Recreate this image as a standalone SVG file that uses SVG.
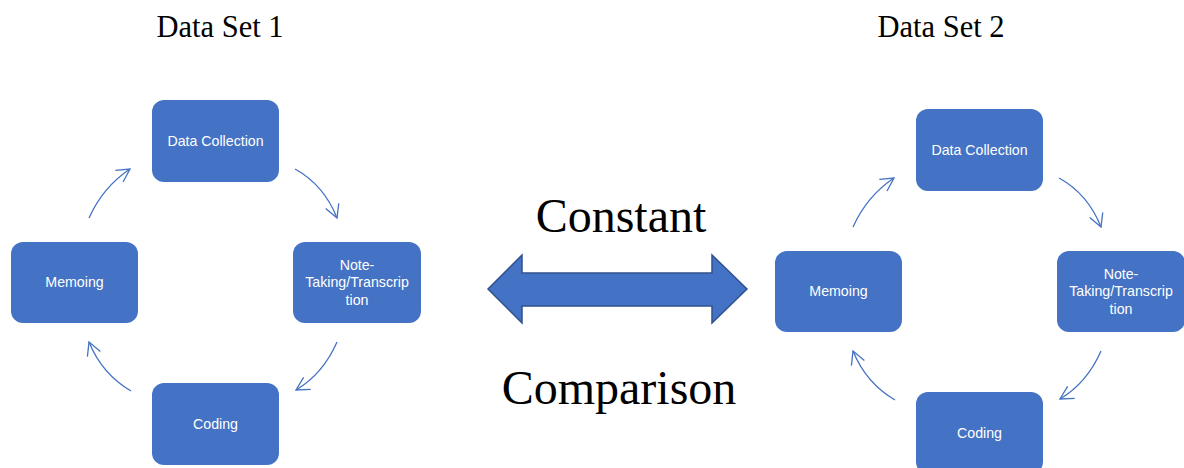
<svg xmlns="http://www.w3.org/2000/svg" width="1184" height="468" viewBox="0 0 1184 468">
<style>
.box{fill:#4472C4;}
.lbl{fill:#FFFFFF;font-family:"Liberation Sans",Arial,sans-serif;font-size:14.2px;text-anchor:middle;}
.title{fill:#000;font-family:"Liberation Serif","Times New Roman",serif;text-anchor:middle;}
.conn{fill:none;stroke:#4472C4;stroke-width:1.3;marker-end:url(#open);}
</style>
<defs>
<marker id="open" markerUnits="userSpaceOnUse" markerWidth="20" markerHeight="20" refX="14" refY="8" orient="auto">
<path d="M1,1 L14,8 L1,15" fill="none" stroke="#4472C4" stroke-width="1.3"/>
</marker>
</defs>
<rect width="1184" height="468" fill="#FFFFFF"/>
<text class="title" x="220" y="37" font-size="30.5">Data Set 1</text>
<text class="title" x="941" y="37" font-size="30.5">Data Set 2</text>
<text class="title" x="621" y="232" font-size="48">Constant</text>
<text class="title" x="619" y="404" font-size="48">Comparison</text>
<g id="double-arrow">
<polygon points="488,289 522,255 522,273 712,273 712,255 747,289 712,323 712,306 522,306 522,323" fill="#4472C4" stroke="#2F528F" stroke-width="1.5"/>
</g>
<g id="set1">
<g id="s1-data-collection"><rect class="box" x="152" y="100" width="127" height="82" rx="12"/><text class="lbl" x="215.5" y="146">Data Collection</text></g>
<g id="s1-note-taking"><rect class="box" x="293" y="242" width="128" height="81" rx="12"/><text class="lbl" x="357" y="270">Note-</text><text class="lbl" x="357" y="287">Taking/Transcrip</text><text class="lbl" x="357" y="305">tion</text></g>
<g id="s1-coding"><rect class="box" x="152" y="383" width="127" height="82" rx="12"/><text class="lbl" x="215.5" y="429">Coding</text></g>
<g id="s1-memoing"><rect class="box" x="11" y="242" width="127" height="81" rx="12"/><text class="lbl" x="74.5" y="287">Memoing</text></g>
<g id="s1-connectors">
<path class="conn" d="M89,218 Q103,187 130,169"/>
<path class="conn" d="M295,169 Q324,185 337,218"/>
<path class="conn" d="M337,342 Q323,374 296,390"/>
<path class="conn" d="M131,391 Q102,374 89,342"/>
</g>
</g>
<g id="set2" transform="translate(764,9)">
<g id="s2-data-collection"><rect class="box" x="152" y="100" width="127" height="82" rx="12"/><text class="lbl" x="215.5" y="146">Data Collection</text></g>
<g id="s2-note-taking"><rect class="box" x="293" y="242" width="128" height="81" rx="12"/><text class="lbl" x="357" y="270">Note-</text><text class="lbl" x="357" y="287">Taking/Transcrip</text><text class="lbl" x="357" y="305">tion</text></g>
<g id="s2-coding"><rect class="box" x="152" y="383" width="127" height="82" rx="12"/><text class="lbl" x="215.5" y="429">Coding</text></g>
<g id="s2-memoing"><rect class="box" x="11" y="242" width="127" height="81" rx="12"/><text class="lbl" x="74.5" y="287">Memoing</text></g>
<g id="s2-connectors">
<path class="conn" d="M89,218 Q103,187 130,169"/>
<path class="conn" d="M295,169 Q324,185 337,218"/>
<path class="conn" d="M337,342 Q323,374 296,390"/>
<path class="conn" d="M131,391 Q102,374 89,342"/>
</g>
</g>
</svg>
